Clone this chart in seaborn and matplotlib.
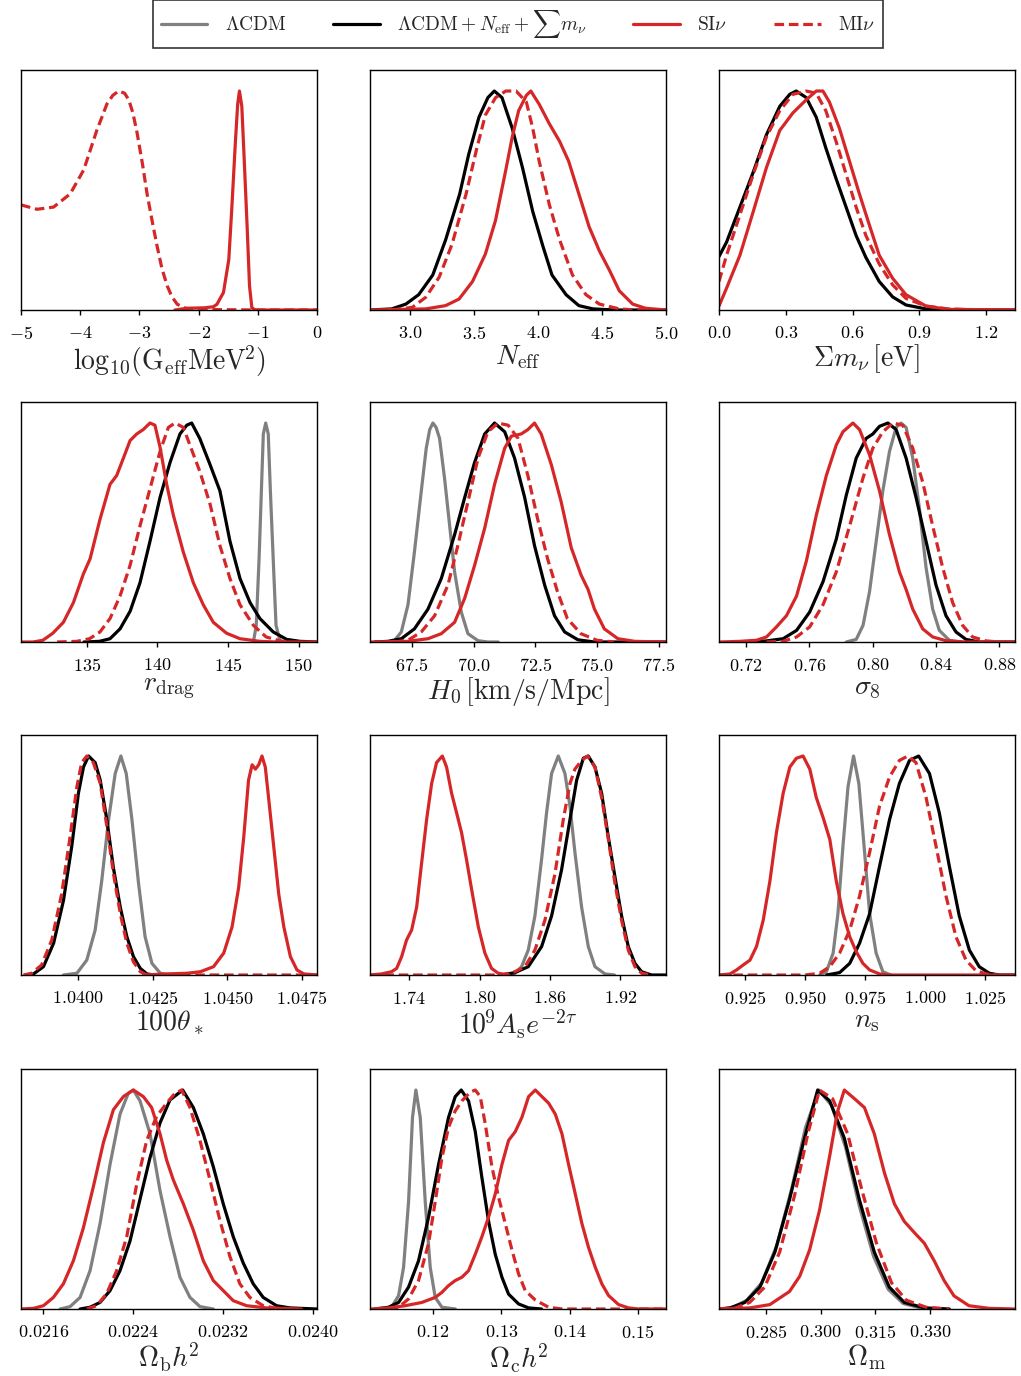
import matplotlib
matplotlib.use("Agg")
import matplotlib.pyplot as plt
from matplotlib.lines import Line2D
from matplotlib.ticker import FixedLocator, FuncFormatter
import pandas as pd
import seaborn as sns

# ---------------------------------------------------------------------------
# Normalised 1D marginal posteriors, (parameter value, P/P_max) pairs
# ---------------------------------------------------------------------------

# log10(G_eff MeV^2)
geff_si = [(-2.4, 0.0), (-2.2, 0.008), (-1.9, 0.01), (-1.75, 0.015), (-1.69, 0.026), (-1.58, 0.08),
           (-1.49, 0.23), (-1.44, 0.46), (-1.38, 0.76), (-1.34, 0.94), (-1.31, 1.0), (-1.27, 0.93),
           (-1.23, 0.69), (-1.18, 0.38), (-1.14, 0.11), (-1.10, 0.01), (-1.04, 0.0), (0.0, 0.0)]
geff_mi = [(-5.0, 0.48), (-4.73, 0.46), (-4.45, 0.47), (-4.17, 0.53), (-3.94, 0.64), (-3.83, 0.73),
           (-3.72, 0.82), (-3.62, 0.89), (-3.55, 0.94), (-3.45, 0.98), (-3.35, 1.0), (-3.25, 0.99),
           (-3.18, 0.96), (-3.11, 0.90), (-3.04, 0.81), (-2.95, 0.67), (-2.87, 0.53), (-2.78, 0.40),
           (-2.70, 0.29), (-2.62, 0.19), (-2.53, 0.11), (-2.45, 0.06), (-2.36, 0.026), (-2.2, 0.006),
           (-1.8, 0.002), (-1.0, 0.0), (0.0, 0.0)]

# N_eff
neff_ext = [(2.69, 0.0), (2.86, 0.005), (2.97, 0.027), (3.07, 0.07), (3.18, 0.16), (3.28, 0.32),
            (3.39, 0.53), (3.46, 0.71), (3.54, 0.88), (3.61, 0.97), (3.66, 1.0), (3.72, 0.97),
            (3.80, 0.83), (3.88, 0.65), (3.96, 0.45), (4.04, 0.29), (4.11, 0.16), (4.22, 0.07),
            (4.32, 0.02), (4.43, 0.005), (4.6, 0.0), (5.0, 0.0)]
neff_si = [(2.69, 0.0), (3.125, 0.005), (3.28, 0.02), (3.385, 0.05), (3.49, 0.13), (3.59, 0.255),
           (3.67, 0.41), (3.75, 0.64), (3.80, 0.79), (3.85, 0.91), (3.91, 0.98), (3.945, 1.0),
           (4.01, 0.94), (4.09, 0.85), (4.17, 0.77), (4.24, 0.68), (4.32, 0.53), (4.40, 0.38),
           (4.48, 0.27), (4.56, 0.18), (4.635, 0.088), (4.74, 0.027), (4.84, 0.008), (5.0, 0.0)]
neff_mi = [(2.86, 0.0), (3.02, 0.012), (3.125, 0.058), (3.23, 0.15), (3.33, 0.30), (3.44, 0.53),
           (3.52, 0.73), (3.59, 0.89), (3.67, 0.97), (3.75, 1.0), (3.83, 1.0), (3.91, 0.95),
           (3.96, 0.83), (4.01, 0.68), (4.09, 0.48), (4.17, 0.32), (4.27, 0.16), (4.375, 0.07),
           (4.48, 0.027), (4.635, 0.005), (4.77, 0.0), (5.0, 0.0)]

# sum of neutrino masses [eV]
mnu_ext = [(0.0, 0.244), (0.034, 0.31), (0.094, 0.47), (0.154, 0.63), (0.213, 0.80), (0.273, 0.93),
           (0.318, 0.985), (0.347, 1.0), (0.392, 0.97), (0.437, 0.88), (0.48, 0.74), (0.526, 0.60),
           (0.571, 0.47), (0.616, 0.34), (0.66, 0.24), (0.72, 0.13), (0.78, 0.06), (0.84, 0.023),
           (0.93, 0.005), (1.03, 0.0), (1.33, 0.0)]
mnu_si = [(0.0, 0.018), (0.034, 0.10), (0.094, 0.25), (0.154, 0.45), (0.213, 0.65), (0.273, 0.82),
          (0.332, 0.90), (0.392, 0.96), (0.437, 1.0), (0.467, 1.0), (0.496, 0.95), (0.541, 0.83),
          (0.586, 0.68), (0.631, 0.53), (0.675, 0.39), (0.72, 0.25), (0.78, 0.145), (0.84, 0.07),
          (0.93, 0.018), (1.03, 0.003), (1.33, 0.0)]
mnu_mi = [(0.0, 0.13), (0.034, 0.25), (0.094, 0.435), (0.154, 0.62), (0.213, 0.79), (0.273, 0.91),
          (0.332, 0.985), (0.392, 1.0), (0.437, 0.99), (0.48, 0.91), (0.526, 0.77), (0.571, 0.62),
          (0.616, 0.47), (0.66, 0.34), (0.72, 0.21), (0.78, 0.115), (0.84, 0.053), (0.93, 0.018),
          (1.03, 0.005), (1.18, 0.0), (1.33, 0.0)]

# r_drag
rd_lcdm = [(146.8, 0.0), (147.0, 0.076), (147.2, 0.38), (147.4, 0.76), (147.5, 0.95), (147.67, 1.0),
           (147.85, 0.95), (148.0, 0.69), (148.2, 0.38), (148.4, 0.076), (148.7, 0.0)]
rd_ext = [(134.8, 0.0), (135.9, 0.003), (136.65, 0.015), (137.36, 0.06), (138.07, 0.14), (138.77, 0.27),
          (139.48, 0.46), (140.19, 0.66), (140.9, 0.82), (141.6, 0.95), (142.08, 0.99), (142.43, 1.0),
          (143.0, 0.93), (143.73, 0.81), (144.43, 0.69), (145.14, 0.46), (145.85, 0.29), (146.56, 0.18),
          (147.26, 0.107), (148.2, 0.046), (149.15, 0.012), (150.1, 0.003), (151.3, 0.0)]
rd_si = [(130.33, 0.0), (131.2, 0.0), (131.9, 0.008), (132.6, 0.04), (133.35, 0.09), (134.06, 0.18),
         (134.76, 0.31), (135.24, 0.38), (135.94, 0.56), (136.65, 0.72), (137.12, 0.76), (137.6, 0.84),
         (138.07, 0.92), (138.54, 0.95), (139.0, 0.97), (139.48, 1.0), (139.83, 0.99), (140.19, 0.89),
         (140.66, 0.72), (141.13, 0.58), (141.84, 0.41), (142.55, 0.27), (143.25, 0.17), (143.96, 0.09),
         (144.9, 0.04), (145.85, 0.015), (147.26, 0.003), (148.4, 0.0), (151.3, 0.0)]
rd_mi = [(132.9, 0.0), (134.3, 0.003), (135.2, 0.015), (135.94, 0.046), (136.65, 0.107), (137.36, 0.21),
         (138.07, 0.35), (138.77, 0.53), (139.48, 0.70), (140.19, 0.87), (140.78, 0.98), (141.25, 1.0),
         (141.84, 0.98), (142.3, 0.90), (143.0, 0.78), (143.73, 0.63), (144.43, 0.44), (145.14, 0.29),
         (145.85, 0.17), (146.8, 0.076), (147.7, 0.023), (148.7, 0.005), (149.4, 0.0)]

# H0 [km/s/Mpc]
h0_lcdm = [(66.53, 0.0), (66.8, 0.008), (67.07, 0.046), (67.34, 0.17), (67.6, 0.41), (67.88, 0.69),
           (68.08, 0.885), (68.22, 0.97), (68.35, 1.0), (68.48, 0.98), (68.62, 0.93), (68.82, 0.75),
           (69.03, 0.53), (69.23, 0.32), (69.5, 0.137), (69.77, 0.038), (70.18, 0.006), (70.58, 0.0),
           (71.0, 0.0)]
h0_ext = [(65.99, 0.0), (66.53, 0.003), (67.07, 0.015), (67.6, 0.06), (68.15, 0.15), (68.69, 0.29),
          (69.23, 0.49), (69.64, 0.66), (70.04, 0.82), (70.45, 0.95), (70.85, 1.0), (71.26, 0.96),
          (71.66, 0.84), (72.07, 0.66), (72.47, 0.44), (72.88, 0.26), (73.28, 0.12), (73.69, 0.046),
          (74.23, 0.01), (74.9, 0.0), (77.8, 0.0)]
h0_si = [(65.8, 0.0), (67.34, 0.003), (68.15, 0.015), (68.69, 0.038), (69.23, 0.09), (69.64, 0.2),
         (70.04, 0.35), (70.45, 0.52), (70.85, 0.72), (71.26, 0.885), (71.53, 0.94), (71.93, 0.95),
         (72.2, 0.97), (72.47, 1.0), (72.74, 0.95), (73.15, 0.81), (73.55, 0.64), (73.96, 0.43),
         (74.36, 0.305), (74.64, 0.24), (74.9, 0.15), (75.3, 0.06), (75.85, 0.015), (76.53, 0.003),
         (77.8, 0.0)]
h0_mi = [(66.8, 0.0), (67.34, 0.008), (67.88, 0.046), (68.42, 0.12), (68.96, 0.26), (69.36, 0.44),
         (69.77, 0.64), (70.18, 0.84), (70.58, 0.96), (70.99, 1.0), (71.4, 0.99), (71.8, 0.93),
         (72.2, 0.76), (72.6, 0.56), (73.0, 0.38), (73.4, 0.23), (73.8, 0.107), (74.35, 0.038),
         (75.0, 0.008), (75.7, 0.0)]

# sigma_8
s8_lcdm = [(0.7834, 0.0), (0.7897, 0.012), (0.794, 0.076), (0.7981, 0.23), (0.8023, 0.46), (0.8065, 0.69),
           (0.8107, 0.87), (0.8149, 0.98), (0.818, 1.0), (0.8212, 0.98), (0.8254, 0.84), (0.8296, 0.61),
           (0.8338, 0.34), (0.838, 0.15), (0.8422, 0.053), (0.8485, 0.008), (0.855, 0.0)]
s8_ext = [(0.7225, 0.0), (0.733, 0.005), (0.7435, 0.015), (0.752, 0.053), (0.7603, 0.137), (0.7687, 0.275),
          (0.7771, 0.47), (0.7834, 0.67), (0.7897, 0.84), (0.796, 0.93), (0.8002, 0.95), (0.8044, 0.985),
          (0.8097, 1.0), (0.8149, 0.97), (0.8212, 0.84), (0.8275, 0.66), (0.8338, 0.46), (0.8401, 0.26),
          (0.8464, 0.12), (0.8527, 0.046), (0.859, 0.012), (0.8674, 0.0), (0.89, 0.0)]
s8_si = [(0.7036, 0.0), (0.716, 0.003), (0.7267, 0.008), (0.733, 0.023), (0.7393, 0.069), (0.7456, 0.12),
         (0.752, 0.21), (0.7582, 0.37), (0.7645, 0.58), (0.7708, 0.76), (0.7771, 0.90), (0.7813, 0.96),
         (0.7876, 1.0), (0.7918, 0.97), (0.7981, 0.855), (0.8044, 0.69), (0.8107, 0.49), (0.817, 0.32),
         (0.8212, 0.24), (0.8254, 0.15), (0.8317, 0.06), (0.838, 0.023), (0.8464, 0.006), (0.859, 0.0),
         (0.89, 0.0)]
s8_mi = [(0.733, 0.0), (0.7435, 0.003), (0.752, 0.023), (0.7603, 0.069), (0.7687, 0.17), (0.7771, 0.32),
         (0.7855, 0.53), (0.794, 0.75), (0.8002, 0.885), (0.8065, 0.96), (0.8128, 1.0), (0.8191, 0.99),
         (0.8254, 0.885), (0.8317, 0.73), (0.838, 0.53), (0.8443, 0.34), (0.8506, 0.18), (0.8569, 0.076),
         (0.8632, 0.023), (0.8716, 0.005), (0.88, 0.0)]

# 100 theta_*
th_lcdm = [(1.03952, 0.0), (1.03997, 0.008), (1.0403, 0.068), (1.04058, 0.205), (1.0408, 0.43),
           (1.04103, 0.71), (1.04125, 0.92), (1.04144, 1.0), (1.04162, 0.92), (1.04181, 0.71),
           (1.04203, 0.42), (1.04225, 0.175), (1.04248, 0.053), (1.04276, 0.008), (1.0431, 0.0)]
th_ext = [(1.03829, 0.0), (1.03852, 0.005), (1.03885, 0.038), (1.03919, 0.145), (1.03952, 0.34),
          (1.0398, 0.59), (1.04002, 0.83), (1.04019, 0.95), (1.04036, 1.0), (1.04058, 0.97),
          (1.04075, 0.89), (1.04097, 0.71), (1.04119, 0.49), (1.04142, 0.31), (1.04164, 0.175),
          (1.04186, 0.084), (1.04209, 0.03), (1.04231, 0.005), (1.04254, 0.0)]
th_si = [(1.0422, 0.0), (1.04298, 0.005), (1.04365, 0.008), (1.0441, 0.015), (1.04454, 0.038),
         (1.04488, 0.1), (1.04516, 0.22), (1.04538, 0.40), (1.04555, 0.63), (1.04571, 0.89),
         (1.04583, 0.96), (1.04594, 0.94), (1.04605, 0.96), (1.04616, 1.0), (1.04627, 0.95),
         (1.04638, 0.81), (1.04655, 0.59), (1.04672, 0.37), (1.04689, 0.22), (1.04711, 0.084),
         (1.04733, 0.023), (1.04756, 0.005), (1.048, 0.0)]
th_mi = [(1.03818, 0.0), (1.03846, 0.008), (1.03879, 0.046), (1.03913, 0.16), (1.03946, 0.37),
         (1.03974, 0.63), (1.03997, 0.86), (1.04013, 0.97), (1.0403, 1.0), (1.04052, 0.97),
         (1.04075, 0.875), (1.04097, 0.68), (1.04119, 0.465), (1.04142, 0.28), (1.04164, 0.145),
         (1.04186, 0.06), (1.04209, 0.015), (1.04231, 0.0), (1.048, 0.0)]

# 10^9 A_s e^{-2 tau}
as_lcdm = [(1.8188, 0.0), (1.8301, 0.008), (1.8358, 0.038), (1.8415, 0.114), (1.8472, 0.27), (1.8529, 0.53),
           (1.8571, 0.74), (1.8614, 0.92), (1.8671, 1.0), (1.8728, 0.92), (1.8771, 0.77), (1.8813, 0.56),
           (1.887, 0.31), (1.8927, 0.13), (1.8984, 0.038), (1.9069, 0.005), (1.915, 0.0)]
as_ext = [(1.8188, 0.0), (1.8301, 0.011), (1.8415, 0.038), (1.8529, 0.13), (1.8614, 0.27), (1.8699, 0.48),
          (1.8771, 0.71), (1.8828, 0.89), (1.8885, 0.99), (1.8927, 1.0), (1.8984, 0.95), (1.9041, 0.83),
          (1.9098, 0.63), (1.9154, 0.45), (1.9211, 0.27), (1.9268, 0.13), (1.9325, 0.053), (1.9382, 0.015),
          (1.9467, 0.0), (1.959, 0.0)]
as_si = [(1.7064, 0.0), (1.7164, 0.005), (1.7249, 0.015), (1.7292, 0.03), (1.7335, 0.084), (1.7377, 0.16),
         (1.742, 0.205), (1.7463, 0.31), (1.7505, 0.51), (1.7548, 0.71), (1.7591, 0.875), (1.7633, 0.97),
         (1.7682, 1.0), (1.7718, 0.95), (1.7761, 0.83), (1.7804, 0.74), (1.7846, 0.65), (1.7889, 0.525),
         (1.7932, 0.39), (1.7989, 0.22), (1.8045, 0.1), (1.8102, 0.03), (1.8159, 0.008), (1.825, 0.0)]
as_mi = [(1.7065, 0.0), (1.8188, 0.0), (1.8301, 0.015), (1.8387, 0.038), (1.8472, 0.114), (1.8557, 0.25),
         (1.8642, 0.46), (1.8714, 0.71), (1.8771, 0.875), (1.8813, 0.94), (1.887, 0.98), (1.8921, 1.0),
         (1.8984, 0.95), (1.9041, 0.81), (1.9098, 0.62), (1.9154, 0.42), (1.9211, 0.25), (1.9268, 0.114),
         (1.9325, 0.038), (1.9382, 0.008), (1.9467, 0.0)]

# n_s
ns_lcdm = [(0.9561, 0.0), (0.9589, 0.015), (0.9617, 0.1), (0.9637, 0.28), (0.9658, 0.59), (0.9679, 0.86),
           (0.9702, 1.0), (0.9724, 0.875), (0.9748, 0.56), (0.9769, 0.28), (0.9796, 0.1), (0.9824, 0.015),
           (0.9858, 0.0)]
ns_ext = [(0.959, 0.0), (0.9644, 0.011), (0.9686, 0.053), (0.9727, 0.145), (0.9769, 0.28), (0.981, 0.495),
          (0.9852, 0.71), (0.9893, 0.875), (0.9935, 0.98), (0.9973, 1.0), (1.0018, 0.92), (1.0059, 0.74),
          (1.0101, 0.495), (1.0142, 0.27), (1.0184, 0.114), (1.0225, 0.038), (1.0267, 0.008), (1.0309, 0.0),
          (1.0374, 0.0)]
ns_si = [(0.9146, 0.0), (0.9188, 0.005), (0.9215, 0.023), (0.9243, 0.046), (0.9271, 0.068), (0.9298, 0.13),
         (0.9326, 0.25), (0.9354, 0.43), (0.9381, 0.65), (0.9409, 0.83), (0.9437, 0.95), (0.9464, 0.99),
         (0.9492, 1.0), (0.952, 0.94), (0.9547, 0.81), (0.9575, 0.72), (0.9603, 0.62), (0.963, 0.43),
         (0.9658, 0.28), (0.9686, 0.175), (0.9713, 0.107), (0.9741, 0.053), (0.9769, 0.023), (0.981, 0.005),
         (0.985, 0.0), (1.0374, 0.0)]
ns_mi = [(0.9142, 0.0), (0.95, 0.0), (0.9561, 0.008), (0.9603, 0.038), (0.9644, 0.1), (0.9686, 0.205),
         (0.9727, 0.36), (0.9769, 0.56), (0.981, 0.77), (0.9852, 0.905), (0.9893, 0.98), (0.9928, 1.0),
         (0.9962, 0.97), (1.0004, 0.81), (1.0045, 0.59), (1.0087, 0.36), (1.0128, 0.175), (1.017, 0.068),
         (1.0211, 0.02), (1.0253, 0.005), (1.0295, 0.0)]

# Omega_b h^2
ob_lcdm = [(0.021749, 0.0), (0.021838, 0.011), (0.021927, 0.053), (0.022016, 0.175), (0.022105, 0.39),
           (0.022194, 0.66), (0.022283, 0.89), (0.022357, 0.985), (0.022402, 1.0), (0.022462, 0.95),
           (0.022551, 0.80), (0.02264, 0.54), (0.022729, 0.33), (0.022818, 0.145), (0.022907, 0.053),
           (0.022996, 0.011), (0.023115, 0.0)]
ob_ext = [(0.021927, 0.0), (0.022016, 0.008), (0.022105, 0.03), (0.022194, 0.084), (0.022283, 0.175),
          (0.022372, 0.31), (0.022461, 0.50), (0.02255, 0.69), (0.02264, 0.85), (0.022729, 0.955),
          (0.022842, 1.0), (0.022937, 0.92), (0.023026, 0.80), (0.023115, 0.65), (0.023204, 0.48),
          (0.023293, 0.33), (0.023382, 0.21), (0.023471, 0.115), (0.02356, 0.053), (0.023679, 0.015),
          (0.023798, 0.005), (0.02404, 0.0)]
ob_si = [(0.021398, 0.0), (0.021511, 0.003), (0.0216, 0.015), (0.021689, 0.053), (0.021778, 0.115),
         (0.021867, 0.22), (0.021956, 0.37), (0.022046, 0.56), (0.022135, 0.76), (0.022224, 0.91),
         (0.022313, 0.97), (0.022402, 1.0), (0.022491, 0.97), (0.022565, 0.92), (0.02264, 0.80),
         (0.022699, 0.68), (0.022758, 0.59), (0.022848, 0.48), (0.022937, 0.36), (0.023026, 0.22),
         (0.023115, 0.13), (0.023204, 0.084), (0.023293, 0.038), (0.023412, 0.015), (0.02359, 0.005),
         (0.0239, 0.0)]
ob_mi = [(0.021986, 0.0), (0.022075, 0.015), (0.022164, 0.07), (0.022253, 0.175), (0.022343, 0.33),
         (0.022432, 0.57), (0.022521, 0.77), (0.02261, 0.88), (0.022699, 0.94), (0.022773, 0.985),
         (0.022833, 1.0), (0.022907, 0.92), (0.022996, 0.77), (0.023085, 0.59), (0.023174, 0.405),
         (0.023263, 0.24), (0.023352, 0.115), (0.023441, 0.053), (0.02356, 0.015), (0.023679, 0.003),
         (0.023798, 0.0)]

# Omega_c h^2
oc_lcdm = [(0.11302, 0.0), (0.1140, 0.011), (0.11498, 0.061), (0.11571, 0.19), (0.11644, 0.49),
           (0.11702, 0.875), (0.11751, 1.0), (0.11815, 0.875), (0.11888, 0.49), (0.11961, 0.19),
           (0.12034, 0.053), (0.12132, 0.008), (0.1233, 0.0)]
oc_ext = [(0.11156, 0.0), (0.11351, 0.008), (0.11498, 0.03), (0.11644, 0.1), (0.1179, 0.22), (0.11937, 0.42),
          (0.12083, 0.66), (0.12229, 0.875), (0.12327, 0.97), (0.12415, 1.0), (0.12522, 0.95), (0.1262, 0.81),
          (0.12717, 0.60), (0.12815, 0.40), (0.12912, 0.25), (0.1301, 0.145), (0.13107, 0.068),
          (0.13254, 0.023), (0.134, 0.005), (0.1359, 0.0)]
oc_si = [(0.11083, 0.0), (0.11351, 0.005), (0.11595, 0.015), (0.11839, 0.03), (0.12034, 0.053),
         (0.12132, 0.076), (0.12229, 0.107), (0.12327, 0.13), (0.12424, 0.145), (0.12522, 0.175),
         (0.1262, 0.25), (0.12717, 0.33), (0.12815, 0.42), (0.12912, 0.525), (0.1301, 0.66), (0.13107, 0.77),
         (0.13205, 0.81), (0.13302, 0.875), (0.134, 0.97), (0.13498, 1.0), (0.13595, 0.97), (0.13693, 0.94),
         (0.1379, 0.89), (0.13888, 0.80), (0.13985, 0.66), (0.14083, 0.525), (0.1418, 0.39), (0.14278, 0.28),
         (0.14376, 0.19), (0.14473, 0.114), (0.14571, 0.061), (0.14717, 0.02), (0.14863, 0.005),
         (0.1501, 0.0), (0.1541, 0.0)]
oc_mi = [(0.11351, 0.0), (0.11498, 0.008), (0.11644, 0.046), (0.1179, 0.13), (0.11937, 0.30), (0.12034, 0.49),
         (0.12132, 0.69), (0.12229, 0.83), (0.12327, 0.905), (0.12424, 0.95), (0.12546, 0.99), (0.1262, 1.0),
         (0.12693, 0.97), (0.12766, 0.845), (0.12863, 0.65), (0.12961, 0.51), (0.13059, 0.39),
         (0.13156, 0.27), (0.13254, 0.16), (0.13351, 0.084), (0.13498, 0.041), (0.13693, 0.008),
         (0.1389, 0.0), (0.1541, 0.0)]

# Omega_m
om_lcdm = [(0.2722, 0.0), (0.2757, 0.005), (0.2798, 0.04), (0.2839, 0.12), (0.288, 0.29), (0.2921, 0.55),
           (0.2959, 0.83), (0.2995, 1.0), (0.303, 0.93), (0.3068, 0.74), (0.3106, 0.47), (0.3145, 0.24),
           (0.3185, 0.09), (0.3226, 0.025), (0.3275, 0.004), (0.333, 0.0)]
om_ext = [(0.2722, 0.0), (0.2752, 0.005), (0.2793, 0.03), (0.2834, 0.10), (0.2875, 0.26), (0.2915, 0.50),
          (0.2956, 0.78), (0.2992, 1.0), (0.3025, 0.95), (0.3065, 0.78), (0.3106, 0.50), (0.3147, 0.26),
          (0.3188, 0.10), (0.3229, 0.03), (0.3284, 0.005), (0.3352, 0.0)]
om_si = [(0.2722, 0.0), (0.2806, 0.005), (0.2861, 0.02), (0.2915, 0.08), (0.2943, 0.15), (0.297, 0.27),
         (0.2997, 0.45), (0.3025, 0.70), (0.3046, 0.90), (0.3065, 1.0), (0.3093, 0.96), (0.312, 0.92),
         (0.3147, 0.80), (0.3175, 0.62), (0.3202, 0.48), (0.3229, 0.40), (0.3256, 0.35), (0.3284, 0.30),
         (0.3311, 0.22), (0.3338, 0.13), (0.3365, 0.06), (0.3406, 0.015), (0.3461, 0.003), (0.3532, 0.0)]
om_mi = [(0.2722, 0.0), (0.2766, 0.004), (0.2806, 0.03), (0.2847, 0.10), (0.2888, 0.26), (0.2929, 0.52),
         (0.2965, 0.80), (0.2997, 1.0), (0.3033, 0.96), (0.3074, 0.80), (0.3112, 0.55), (0.3153, 0.30),
         (0.3194, 0.12), (0.3235, 0.04), (0.3289, 0.008), (0.3352, 0.0)]

# Axis limits, tick positions and labels for each parameter
xlims = [(-5.0, 0.0), (2.69, 5.0), (0.0, 1.33),
         (130.35, 151.3), (65.8, 77.8), (0.703, 0.890),
         (1.0381, 1.0480), (1.7065, 1.959), (0.9142, 1.0374),
         (0.0214, 0.02404), (0.1108, 0.1541), (0.2722, 0.3532)]
xticks = [[-5, -4, -3, -2, -1, 0], [3.0, 3.5, 4.0, 4.5, 5.0], [0.0, 0.3, 0.6, 0.9, 1.2],
          [135, 140, 145, 150], [67.5, 70.0, 72.5, 75.0, 77.5], [0.72, 0.76, 0.80, 0.84, 0.88],
          [1.04, 1.0425, 1.045, 1.0475], [1.74, 1.80, 1.86, 1.92], [0.925, 0.95, 0.975, 1.0, 1.025],
          [0.0216, 0.0224, 0.0232, 0.0240], [0.12, 0.13, 0.14, 0.15], [0.285, 0.300, 0.315, 0.330]]
tick_decimals = [0, 1, 1, 0, 1, 2, 4, 2, 3, 4, 2, 3]
xlabels = [r"$\mathrm{log}_{10}(\mathrm{G_{eff}MeV}^{\!2})$", r"$N_\mathrm{eff}$",
           r"$\Sigma m_\nu\,[\mathrm{eV}]$",
           r"$r_\mathrm{drag}$", r"$H_0\,[\mathrm{km/s/Mpc}]$", r"$\sigma_8$",
           r"$100\theta_*$", r"$10^{\!9}A_\mathrm{s}e^{-2\tau}$", r"$n_\mathrm{s}$",
           r"$\Omega_\mathrm{b}h^{\!2}$", r"$\Omega_\mathrm{c}h^{\!2}$", r"$\Omega_\mathrm{m}$"]

models = ["LCDM", "EXT", "SI", "MI"]
model_labels = [r"$\Lambda\mathrm{CDM}$", r"$\Lambda\mathrm{CDM}+N_\mathrm{eff}+\sum m_\nu$",
                r"$\mathrm{SI}\nu$", r"$\mathrm{MI}\nu$"]

panel_curves = [
    {"SI": geff_si, "MI": geff_mi},
    {"EXT": neff_ext, "SI": neff_si, "MI": neff_mi},
    {"EXT": mnu_ext, "SI": mnu_si, "MI": mnu_mi},
    {"LCDM": rd_lcdm, "EXT": rd_ext, "SI": rd_si, "MI": rd_mi},
    {"LCDM": h0_lcdm, "EXT": h0_ext, "SI": h0_si, "MI": h0_mi},
    {"LCDM": s8_lcdm, "EXT": s8_ext, "SI": s8_si, "MI": s8_mi},
    {"LCDM": th_lcdm, "EXT": th_ext, "SI": th_si, "MI": th_mi},
    {"LCDM": as_lcdm, "EXT": as_ext, "SI": as_si, "MI": as_mi},
    {"LCDM": ns_lcdm, "EXT": ns_ext, "SI": ns_si, "MI": ns_mi},
    {"LCDM": ob_lcdm, "EXT": ob_ext, "SI": ob_si, "MI": ob_mi},
    {"LCDM": oc_lcdm, "EXT": oc_ext, "SI": oc_si, "MI": oc_mi},
    {"LCDM": om_lcdm, "EXT": om_ext, "SI": om_si, "MI": om_mi},
]

# ---------------------------------------------------------------------------
# Style
# ---------------------------------------------------------------------------
sns.set_style("ticks")
plt.rcParams.update({
    "font.family": "serif",
    "font.serif": ["cmr10", "DejaVu Serif"],
    "mathtext.fontset": "cm",
    "axes.formatter.use_mathtext": True,
    "axes.edgecolor": "black",
    "axes.linewidth": 1.0,
    "xtick.color": "black",
    "xtick.direction": "out",
    "xtick.major.size": 3.5,
    "xtick.major.width": 1.0,
    "xtick.labelsize": 13,
    "axes.labelsize": 20,
    "lines.solid_joinstyle": "round",
    "lines.dash_joinstyle": "round",
})

palette = {"LCDM": "#808080", "EXT": "black", "SI": "#d62728", "MI": "#d62728"}
dash_map = {"LCDM": "", "EXT": "", "SI": "", "MI": (3, 1.5)}
LW = 2.3

W, H = 1021, 1376
fig = plt.figure(figsize=(W / 100, H / 100), dpi=100)

col_left = [21, 370, 719]
row_top = [70, 402, 735, 1069]
ax_w, ax_h = 296, 240


def make_formatter(nd):
    return FuncFormatter(lambda v, pos: r"$%.*f$" % (nd, v))


for i, curves in enumerate(panel_curves):
    r, c = divmod(i, 3)
    ax = fig.add_axes([col_left[c] / W, 1 - (row_top[r] + ax_h) / H, ax_w / W, ax_h / H])

    frames = []
    for m in models:
        if m in curves:
            xs, ys = zip(*curves[m])
            frames.append(pd.DataFrame({"x": xs, "p": ys, "model": m}))
    df = pd.concat(frames, ignore_index=True)
    present = [m for m in models if m in curves]

    sns.lineplot(data=df, x="x", y="p", hue="model", style="model",
                 hue_order=present, style_order=present,
                 palette=palette, dashes=dash_map, estimator=None,
                 linewidth=LW, legend=False, ax=ax)

    ax.set_xlim(*xlims[i])
    ax.set_ylim(0, 1.096)
    ax.xaxis.set_major_locator(FixedLocator(xticks[i]))
    ax.xaxis.set_major_formatter(make_formatter(tick_decimals[i]))
    ax.set_yticks([])
    ax.set_ylabel("")
    ax.set_xlabel(xlabels[i], labelpad=1)
    ax.tick_params(axis="x", pad=7)
    for s in ax.spines.values():
        s.set_visible(True)
        s.set_linewidth(1.0)
        s.set_color("black")

handles = [Line2D([], [], color=palette[m], lw=LW) for m in models]
handles[3].set_linestyle((0, (3, 1.5)))
leg = fig.legend(handles, model_labels, loc="center", ncol=4,
                 bbox_to_anchor=(518 / W, 1 - 24 / H), fontsize=14,
                 frameon=True, fancybox=False, edgecolor="#333333", framealpha=1,
                 handlelength=2.4, handletextpad=0.9, columnspacing=2.4,
                 borderpad=0.4)
leg.get_frame().set_linewidth(1.2)

fig.savefig("out.png", dpi=100)
